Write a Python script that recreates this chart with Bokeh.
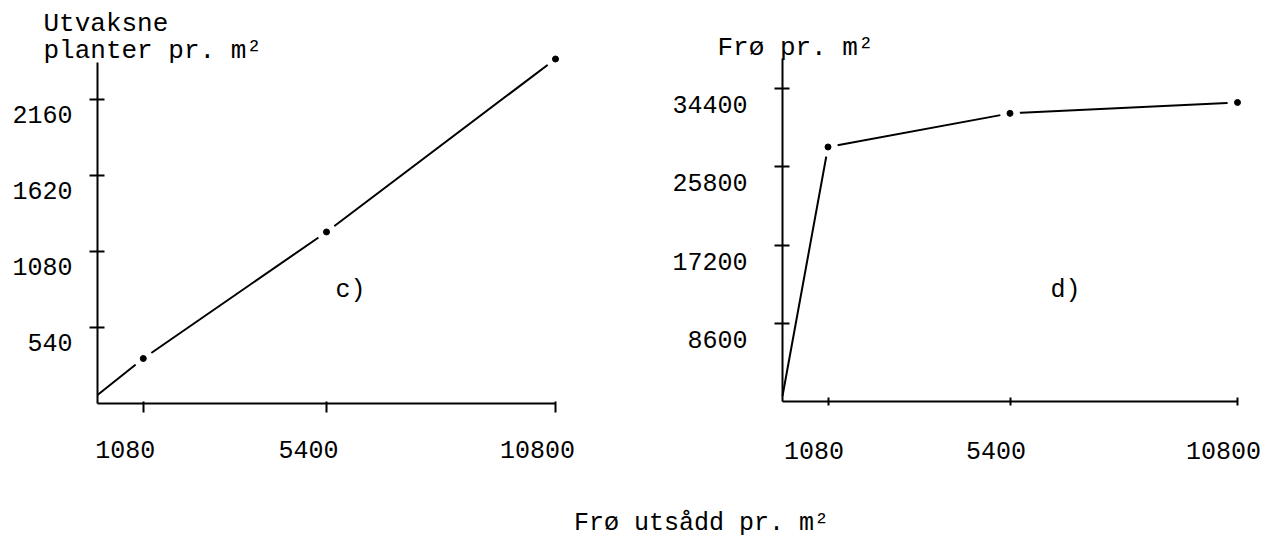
from bokeh.plotting import figure
from bokeh.models import ColumnDataSource, LabelSet, Label, Range1d, FixedTicker
from bokeh.layouts import column, row
from bokeh.core.properties import value
from bokeh.embed import file_html
from bokeh.resources import INLINE

# ---- data ----
sown = [0, 1080, 5400, 10800]            # Frø utsådd pr. m²
plants = [60, 320, 1220, 2450]           # c) Utvaksne planter pr. m²
seed_yield = [600, 28000, 31700, 32900]  # d) Frø pr. m²

x_ticks = [1080, 5400, 10800]
c_y_ticks = [540, 1080, 1620, 2160]
d_y_ticks = [8600, 17200, 25800, 34400]

FONT = "Liberation Mono"
FS = "25px"


def make_panel(yvals, y_ticks, width, height, ox, oy, px_x, px_y,
               y_axis_top, x_tick_in, x_tick_out,
               ylab_dx, ylab_dy, xlab_dx, xlab_dy):
    # ox, oy: pixel position of the data origin inside the canvas (from top-left)
    # px_x, px_y: pixels per data unit
    xr = Range1d(-ox / px_x, (width - ox) / px_x)
    yr = Range1d(-(height - oy) / px_y, oy / px_y)
    p = figure(width=width, height=height, x_range=xr, y_range=yr,
               output_backend="svg", toolbar_location=None,
               min_border_left=0, min_border_right=0,
               min_border_top=0, min_border_bottom=0)
    p.outline_line_color = None
    p.xgrid.visible = False
    p.ygrid.visible = False
    p.background_fill_color = "white"
    p.border_fill_color = "white"

    for ax in (p.xaxis, p.yaxis):
        ax.fixed_location = 0
        ax.axis_line_width = 2
        ax.axis_line_color = "black"
        ax.major_tick_line_width = 2
        ax.major_tick_line_color = "black"
        ax.minor_tick_line_color = None
        ax.major_label_text_color = None

    p.xaxis.ticker = FixedTicker(ticks=x_ticks)
    p.xaxis.bounds = (0, x_ticks[-1])
    p.xaxis.major_tick_in = x_tick_in
    p.xaxis.major_tick_out = x_tick_out

    p.yaxis.ticker = FixedTicker(ticks=y_ticks)
    p.yaxis.bounds = (0, y_axis_top)
    p.yaxis.major_tick_in = 7
    p.yaxis.major_tick_out = 8

    # data line with small gaps around the plotted points
    p.line(sown, yvals, line_width=2, line_color="black")
    p.scatter(sown[1:], yvals[1:], size=20, fill_color="white", line_color=None)
    p.scatter(sown[1:], yvals[1:], size=6, fill_color="black", line_color="black")

    # tick labels
    ysrc = ColumnDataSource(dict(x=[0] * len(y_ticks), y=y_ticks,
                                 t=[str(v) for v in y_ticks]))
    p.add_layout(LabelSet(x="x", y="y", text="t", source=ysrc,
                          x_offset=ylab_dx, y_offset=ylab_dy,
                          text_align="right", text_baseline="middle",
                          text_font=value(FONT), text_font_size=FS,
                          text_color="black"))
    xsrc = ColumnDataSource(dict(x=x_ticks, y=[0] * len(x_ticks),
                                 t=[str(v) for v in x_ticks]))
    p.add_layout(LabelSet(x="x", y="y", text="t", source=xsrc,
                          x_offset=xlab_dx, y_offset=xlab_dy,
                          text_align="center", text_baseline="middle",
                          text_font=value(FONT), text_font_size=FS,
                          text_color="black"))
    return p


def note(p, text, dx, dy, size=FS, align="left"):
    p.add_layout(Label(x=0, y=0, x_offset=dx, y_offset=dy, text=text,
                       text_font=FONT, text_font_size=size, text_color="black",
                       text_align=align, text_baseline="middle"))


# left panel c)  (canvas 0..640)
p1 = make_panel(plants, c_y_ticks, 640, 478, 97, 403, 458 / 10800, 75.93 / 540,
                2425, 2, 9, -25, -15, -18, -46)
note(p1, "Utvaksne", -54, 380, "26px")
note(p1, "planter pr. m²", -54, 353, "26px")
note(p1, "c)", 238, 113)

# right panel d)  (canvas 640..1274)
p2 = make_panel(seed_yield, d_y_ticks, 634, 478, 142, 401, 455 / 10800, 78.17 / 8600,
                37738, 4, 4, -35, -16, -14, -49)
note(p2, "Frø pr. m²", -65, 354, "26px")
note(p2, "d)", 268, 111)

# shared x title (canvas 478..540)
p3 = figure(width=1274, height=62, x_range=Range1d(0, 1274), y_range=Range1d(0, 62),
            output_backend="svg", toolbar_location=None,
            x_axis_location=None, y_axis_location=None,
            min_border_left=0, min_border_right=0, min_border_top=0, min_border_bottom=0)
p3.outline_line_color = None
p3.xgrid.visible = False
p3.ygrid.visible = False
note(p3, "Frø utsådd pr. m²", 701, 17, FS, "center")

layout = column(row(p1, p2), p3)
open("out.html", "w").write(file_html(layout, INLINE))
